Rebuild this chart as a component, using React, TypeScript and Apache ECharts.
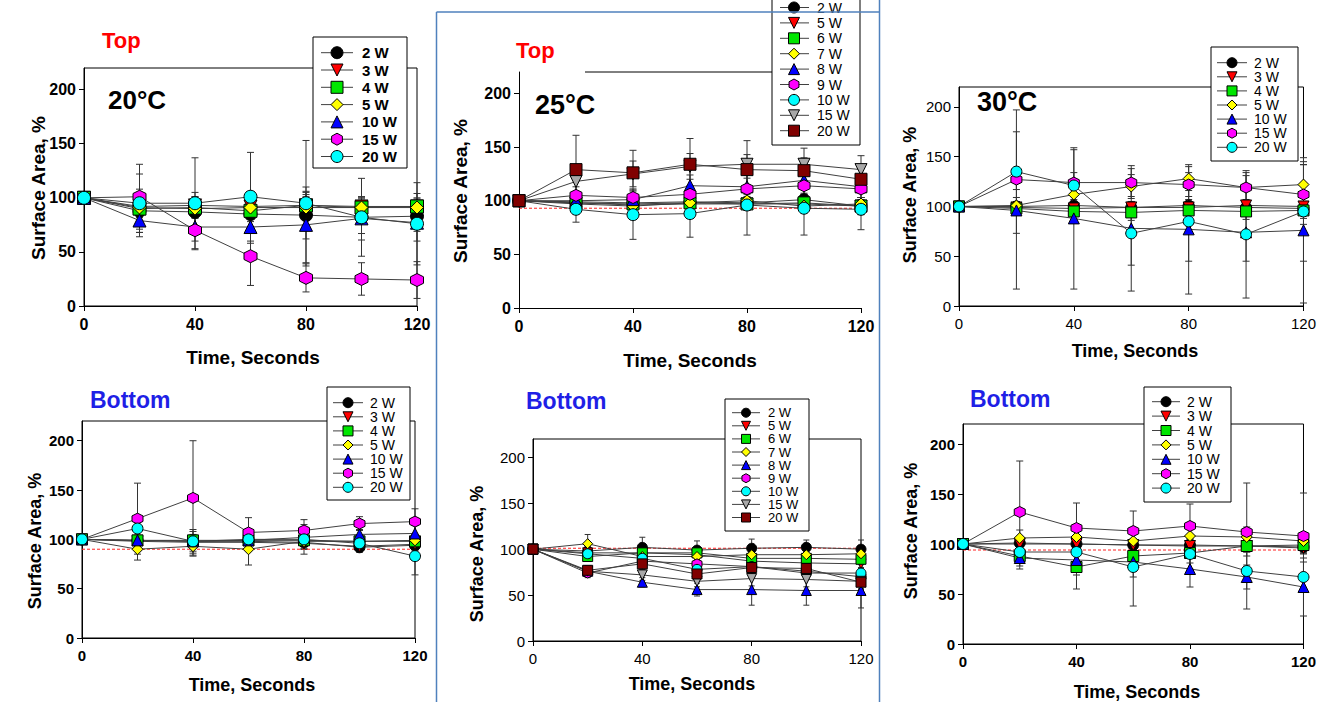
import React, { useEffect, useRef } from "react";
import * as echarts from "echarts";

const FONT = "'Liberation Sans', Arial, Helvetica, sans-serif";

const times = [0, 20, 40, 60, 80, 100, 120];
const yTickValues = [0, 50, 100, 150, 200];
const xTickValues = [0, 40, 80, 120];

const namesA = ["2 W", "3 W", "4 W", "5 W", "10 W", "15 W", "20 W"];
const namesB = ["2 W", "5 W", "6 W", "7 W", "8 W", "9 W", "10 W", "15 W", "20 W"];
const marksA = ["blackCircle", "redDown", "greenSquare", "yellowDiamond", "blueUp", "magentaHex", "cyanCircle"];
const marksB = ["blackCircle", "redDown", "greenSquare", "yellowDiamond", "blueUp", "magentaHex", "cyanCircle", "grayDown", "maroonSquare"];

// Top, 20°C
const top20Mean = [
  [100, 88, 87, 85, 84, 82, 83],
  [100, 92, 93, 92, 93, 92, 92],
  [100, 90, 91, 88, 93, 91, 92],
  [100, 91, 90, 91, 91, 91, 91],
  [100, 79, 73, 73, 75, 81, 77],
  [100, 101, 70, 46, 26, 25, 24],
  [100, 95, 95, 101, 95, 82, 76],
];
const top20Err = [
  [0, 20, 18, 12, 22, 15, 14],
  [0, 10, 8, 8, 10, 8, 8],
  [0, 12, 10, 10, 12, 10, 12],
  [0, 9, 8, 8, 10, 8, 8],
  [0, 15, 13, 15, 35, 20, 17],
  [0, 30, 18, 27, 13, 15, 17],
  [0, 27, 42, 41, 58, 36, 38],
];

// Top, 25°C
const top25Mean = [
  [100, 99, 98, 99, 98, 101, 95],
  [100, 98, 96, 97, 97, 97, 95],
  [100, 98, 97, 98, 97, 98, 95],
  [100, 97, 95, 98, 100, 95, 97],
  [100, 100, 101, 114, 113, 119, 113],
  [100, 105, 103, 106, 111, 114, 111],
  [100, 92, 87, 88, 96, 93, 92],
  [100, 118, 125, 132, 134, 134, 129],
  [100, 129, 126, 134, 129, 128, 120],
];
const top25Err = [
  [0, 5, 6, 6, 6, 5, 8],
  [0, 5, 5, 5, 5, 5, 5],
  [0, 6, 6, 6, 6, 6, 6],
  [0, 5, 6, 6, 6, 6, 6],
  [0, 6, 8, 10, 12, 12, 10],
  [0, 8, 8, 8, 10, 10, 8],
  [0, 12, 23, 22, 28, 25, 19],
  [0, 10, 12, 12, 22, 15, 13],
  [0, 32, 21, 24, 14, 12, 10],
];

// Top, 30°C
const top30Mean = [
  [100, 100, 101, 99, 101, 99, 98],
  [100, 99, 98, 99, 99, 101, 100],
  [100, 98, 95, 94, 96, 95, 96],
  [100, 101, 112, 120, 128, 119, 122],
  [100, 96, 88, 78, 77, 74, 76],
  [100, 127, 124, 124, 122, 119, 112],
  [100, 135, 121, 73, 85, 72, 95],
];
const top30Err = [
  [0, 5, 6, 6, 6, 6, 6],
  [0, 5, 5, 5, 5, 5, 5],
  [0, 6, 8, 8, 8, 8, 8],
  [0, 8, 10, 12, 12, 12, 20],
  [0, 79, 71, 63, 65, 29, 73],
  [0, 10, 10, 14, 12, 15, 30],
  [0, 62, 36, 32, 40, 64, 50],
];

// Bottom, 20°C
const bot20Mean = [
  [100, 99, 98, 98, 97, 92, 94],
  [100, 98, 97, 97, 96, 93, 95],
  [100, 99, 99, 99, 99, 98, 98],
  [100, 90, 93, 90, 98, 98, 99],
  [100, 99, 98, 99, 102, 105, 106],
  [100, 121, 142, 107, 109, 116, 118],
  [100, 111, 98, 100, 100, 96, 83],
];
const bot20Err = [
  [0, 5, 10, 6, 6, 5, 5],
  [0, 5, 6, 5, 6, 5, 5],
  [0, 5, 6, 5, 6, 5, 5],
  [0, 11, 10, 16, 8, 6, 6],
  [0, 5, 6, 5, 8, 5, 8],
  [0, 36, 58, 15, 11, 7, 13],
  [0, 10, 12, 8, 15, 6, 19],
];

// Bottom, 25°C
const bot25Mean = [
  [100, 98, 102, 99, 101, 102, 100],
  [100, 96, 96, 94, 87, 85, 84],
  [100, 92, 96, 96, 90, 90, 89],
  [100, 106, 92, 92, 94, 94, 95],
  [100, 76, 64, 56, 56, 55, 55],
  [100, 74, 87, 84, 81, 76, 70],
  [100, 95, 90, 78, 81, 74, 74],
  [100, 76, 72, 65, 68, 67, 65],
  [100, 77, 84, 73, 80, 79, 64],
];
const bot25Err = [
  [0, 5, 11, 10, 10, 8, 10],
  [0, 5, 5, 5, 5, 5, 5],
  [0, 5, 5, 5, 5, 5, 5],
  [0, 10, 6, 6, 6, 6, 6],
  [0, 6, 5, 7, 17, 16, 19],
  [0, 5, 6, 6, 6, 6, 6],
  [0, 5, 6, 6, 6, 6, 6],
  [0, 5, 6, 6, 8, 8, 8],
  [0, 5, 6, 6, 8, 8, 8],
];

// Bottom, 30°C
const bot30Mean = [
  [100, 101, 100, 99, 99, 98, 97],
  [100, 100, 100, 99, 98, 98, 96],
  [100, 88, 77, 88, 91, 98, 99],
  [100, 106, 107, 103, 108, 107, 103],
  [100, 86, 84, 82, 75, 67, 57],
  [100, 132, 116, 113, 118, 112, 108],
  [100, 92, 92, 77, 90, 73, 67],
];
const bot30Err = [
  [0, 5, 6, 6, 6, 6, 6],
  [0, 5, 6, 6, 6, 6, 6],
  [0, 10, 22, 15, 10, 10, 8],
  [0, 8, 8, 8, 10, 10, 8],
  [0, 11, 15, 15, 18, 12, 29],
  [0, 51, 25, 20, 22, 49, 43],
  [0, 10, 15, 39, 15, 38, 15],
];

// red dotted reference levels (null = none)
const refLevels = [null, 93, null, 90, 101, 94];

const HEX = "path://M0,-10 L8.66,-5 L8.66,5 L0,10 L-8.66,5 L-8.66,-5 Z";

const SYM: Record<string, { symbol: string; color: string; rotate?: number; shape: string }> = {
  blackCircle: { symbol: "circle", color: "#000000", shape: "circle" },
  redDown: { symbol: "triangle", color: "#ff0000", rotate: 180, shape: "down" },
  greenSquare: { symbol: "rect", color: "#00e600", shape: "rect" },
  yellowDiamond: { symbol: "diamond", color: "#ffff00", shape: "diamond" },
  blueUp: { symbol: "triangle", color: "#0000ff", shape: "up" },
  magentaHex: { symbol: HEX, color: "#ff00ff", shape: "hex" },
  cyanCircle: { symbol: "circle", color: "#00ffff", shape: "circle" },
  grayDown: { symbol: "triangle", color: "#a8a8a8", rotate: 180, shape: "down" },
  maroonSquare: { symbol: "rect", color: "#800000", shape: "rect" },
};

const PANELS = [
  {
    names: namesA, marks: marksA, mean: top20Mean, err: top20Err,
    grid: { left: 84, top: 68, width: 333, height: 238 }, frame: true,
    tick: { size: 16, weight: "bold" }, sym: 13, cap: 3.5,
    legend: { x: 313, y: 37, w: 94, h: 131, y0: 52.7, step: 17.3, mx: 337, l1: 321, l2: 353, tx: 362, s: 12, fs: 15, fw: "bold" },
    labels: [
      { text: "Top", x: 102, y: 40, color: "#ff0000", size: 22 },
      { text: "20°C", x: 108, y: 100, color: "#000000", size: 26 },
    ],
    yName: { x: 38, y: 188 }, xName: { x: 253, y: 357 }, nameSize: 19,
  },
  {
    names: namesB, marks: marksB, mean: top25Mean, err: top25Err,
    grid: { left: 519, top: 72, width: 342, height: 236 }, frame: false,
    tick: { size: 16, weight: "bold" }, sym: 12, cap: 3.5,
    legend: { x: 772, y: -10, w: 88, h: 155, y0: 7.5, step: 15.4, mx: 794, l1: 780, l2: 809, tx: 817, s: 11, fs: 14, fw: "normal" },
    labels: [
      { text: "Top", x: 516, y: 50, color: "#ff0000", size: 22 },
      { text: "25°C", x: 535, y: 105, color: "#000000", size: 27 },
    ],
    yName: { x: 460, y: 191 }, xName: { x: 690, y: 360 }, nameSize: 19,
  },
  {
    names: namesA, marks: marksA, mean: top30Mean, err: top30Err,
    grid: { left: 959, top: 87, width: 345, height: 219 }, frame: true,
    tick: { size: 15, weight: "normal" }, sym: 11, cap: 3.5,
    legend: { x: 1211, y: 47, w: 87, h: 114, y0: 62.7, step: 14.1, mx: 1232, l1: 1217, l2: 1247, tx: 1254, s: 10, fs: 14, fw: "normal" },
    labels: [{ text: "30°C", x: 977, y: 102, color: "#000000", size: 27 }],
    yName: { x: 910, y: 195 }, xName: { x: 1135, y: 351 }, nameSize: 18,
  },
  {
    names: namesA, marks: marksA, mean: bot20Mean, err: bot20Err,
    grid: { left: 82, top: 421, width: 333, height: 217 }, frame: true,
    tick: { size: 15, weight: "bold" }, sym: 11, cap: 3.5,
    legend: { x: 327, y: 387, w: 83, h: 113, y0: 402.7, step: 14.1, mx: 348, l1: 333, l2: 363, tx: 370, s: 10, fs: 14, fw: "normal" },
    labels: [{ text: "Bottom", x: 90, y: 400, color: "#1f1fe6", size: 23 }],
    yName: { x: 35, y: 541 }, xName: { x: 252, y: 685 }, nameSize: 18,
  },
  {
    names: namesB, marks: marksB, mean: bot25Mean, err: bot25Err,
    grid: { left: 533, top: 439, width: 328, height: 202 }, frame: true,
    tick: { size: 15, weight: "normal" }, sym: 10, cap: 3,
    legend: { x: 725, y: 399, w: 84, h: 132, y0: 412.7, step: 13.1, mx: 746, l1: 732, l2: 760, tx: 768, s: 9, fs: 13, fw: "normal" },
    labels: [{ text: "Bottom", x: 526, y: 401, color: "#1f1fe6", size: 23 }],
    yName: { x: 477, y: 554 }, xName: { x: 692, y: 684 }, nameSize: 18,
  },
  {
    names: namesA, marks: marksA, mean: bot30Mean, err: bot30Err,
    grid: { left: 963, top: 424, width: 341, height: 220 }, frame: true,
    tick: { size: 15, weight: "bold" }, sym: 11, cap: 3.5,
    legend: { x: 1144, y: 387, w: 87, h: 115, y0: 401.7, step: 14.4, mx: 1166, l1: 1152, l2: 1180, tx: 1187, s: 10, fs: 14, fw: "normal" },
    labels: [{ text: "Bottom", x: 970, y: 399, color: "#1f1fe6", size: 23 }],
    yName: { x: 911, y: 531 }, xName: { x: 1137, y: 692 }, nameSize: 18,
  },
];

function symbolShape(key: string, cx: number, cy: number, s: number, z: number) {
  const d = SYM[key];
  const style = { fill: d.color, stroke: "#000", lineWidth: 1 };
  const h = s / 2;
  if (d.shape === "circle") return { type: "circle", z, shape: { cx, cy, r: h }, style };
  if (d.shape === "rect") return { type: "rect", z, shape: { x: cx - h, y: cy - h, width: s, height: s }, style };
  let pts: number[][] = [];
  if (d.shape === "up") pts = [[cx, cy - h], [cx + h, cy + h], [cx - h, cy + h]];
  if (d.shape === "down") pts = [[cx - h, cy - h], [cx + h, cy - h], [cx, cy + h]];
  if (d.shape === "diamond") pts = [[cx, cy - h], [cx + h, cy], [cx, cy + h], [cx - h, cy]];
  if (d.shape === "hex") pts = [[cx, cy - h], [cx + h * 0.9, cy - h / 2], [cx + h * 0.9, cy + h / 2], [cx, cy + h], [cx - h * 0.9, cy + h / 2], [cx - h * 0.9, cy - h / 2]];
  return { type: "polygon", z, shape: { points: pts }, style };
}

function textEl(text: string, x: number, y: number, size: number, weight: string, color: string, align: string, z: number, rotation = 0) {
  return {
    type: "text", x, y, z, rotation,
    style: {
      text, fill: color, fontSize: size, fontWeight: weight, fontFamily: FONT,
      align, verticalAlign: "middle", textAlign: align, textVerticalAlign: "middle",
    },
  };
}

function buildOption() {
  const grid: any[] = [];
  const xAxis: any[] = [];
  const yAxis: any[] = [];
  const series: any[] = [];
  const graphic: any[] = [];

  PANELS.forEach((p, pi) => {
    grid.push({ ...p.grid, show: p.frame, borderColor: "#000", borderWidth: 1, backgroundColor: "transparent" });
    const labelStyle = { color: "#000", fontSize: p.tick.size, fontWeight: p.tick.weight, fontFamily: FONT };
    xAxis.push({
      type: "value", gridIndex: pi, min: 0, max: 120, interval: 40,
      axisLine: { show: true, onZero: false, lineStyle: { color: "#000", width: 1 } },
      axisTick: { show: true, length: 5, customValues: xTickValues, lineStyle: { color: "#000" } },
      axisLabel: { ...labelStyle, margin: 10, customValues: xTickValues },
      splitLine: { show: false },
    });
    yAxis.push({
      type: "value", gridIndex: pi, min: 0, max: 220, interval: 50,
      axisLine: { show: true, onZero: false, lineStyle: { color: "#000", width: 1 } },
      axisTick: { show: true, length: 5, customValues: yTickValues, lineStyle: { color: "#000" } },
      axisLabel: { ...labelStyle, margin: 8, customValues: yTickValues },
      splitLine: { show: false },
    });

    const rows: number[][] = [];
    p.mean.forEach((m, si) =>
      m.forEach((v, ti) => {
        const e = p.err[si][ti];
        if (e > 0) rows.push([times[ti], v - e, v + e]);
      })
    );
    const cap = p.cap;
    series.push({
      type: "custom", xAxisIndex: pi, yAxisIndex: pi, silent: true, z: 2,
      data: rows,
      encode: { x: 0, y: [1, 2] },
      renderItem: (params: any, api: any) => {
        const x = api.value(0);
        const lo = api.coord([x, api.value(1)]);
        const hi = api.coord([x, api.value(2)]);
        const st = { stroke: "#333", lineWidth: 1 };
        return {
          type: "group",
          children: [
            { type: "line", shape: { x1: lo[0], y1: lo[1], x2: hi[0], y2: hi[1] }, style: st },
            { type: "line", shape: { x1: lo[0] - cap, y1: lo[1], x2: lo[0] + cap, y2: lo[1] }, style: st },
            { type: "line", shape: { x1: hi[0] - cap, y1: hi[1], x2: hi[0] + cap, y2: hi[1] }, style: st },
          ],
        };
      },
    });

    const ref = refLevels[pi];
    if (ref != null) {
      series.push({
        type: "line", xAxisIndex: pi, yAxisIndex: pi, silent: true, z: 2,
        data: [[0, ref], [120, ref]], symbol: "none",
        lineStyle: { color: "#ff2020", width: 1, type: [3, 2] },
      });
    }

    p.names.forEach((n, si) => {
      const d = SYM[p.marks[si]];
      series.push({
        type: "line", name: n, xAxisIndex: pi, yAxisIndex: pi, z: 3,
        data: times.map((t, ti) => [t, p.mean[si][ti]]),
        symbol: d.symbol, symbolSize: p.sym, symbolRotate: d.rotate || 0,
        showAllSymbol: true,
        itemStyle: { color: d.color, borderColor: "#000", borderWidth: 1 },
        lineStyle: { color: "#404040", width: 1 },
        emphasis: { disabled: true },
      });
    });

    // legend box
    const L = p.legend;
    graphic.push({ type: "rect", z: 100, shape: { x: L.x, y: L.y, width: L.w, height: L.h }, style: { fill: "#fff", stroke: "#000", lineWidth: 1 } });
    p.names.forEach((n, i) => {
      const cy = L.y0 + i * L.step;
      graphic.push({ type: "line", z: 101, shape: { x1: L.l1, y1: cy, x2: L.l2, y2: cy }, style: { stroke: "#404040", lineWidth: 1 } });
      graphic.push(symbolShape(p.marks[i], L.mx, cy, L.s, 102));
      graphic.push(textEl(n, L.tx, cy, L.fs, L.fw, "#000", "left", 102));
    });

    p.labels.forEach((lb) => graphic.push(textEl(lb.text, lb.x, lb.y, lb.size, "bold", lb.color, "left", 90)));
    graphic.push(textEl("Surface Area, %", p.yName.x, p.yName.y, p.nameSize, "bold", "#000", "center", 90, Math.PI / 2));
    graphic.push(textEl("Time, Seconds", p.xName.x, p.xName.y, p.nameSize, "bold", "#000", "center", 90));
  });

  // partial top frame of the 25°C top panel
  graphic.push({ type: "line", z: 5, shape: { x1: 585, y1: 72, x2: 772, y2: 72 }, style: { stroke: "#000", lineWidth: 1 } });

  // slide dividers
  const div = { stroke: "#4f81bd", lineWidth: 1.5 };
  graphic.push({ type: "line", z: 120, shape: { x1: 436.5, y1: 12, x2: 436.5, y2: 702 }, style: div });
  graphic.push({ type: "line", z: 120, shape: { x1: 879.5, y1: 0, x2: 879.5, y2: 702 }, style: div });
  graphic.push({ type: "line", z: 120, shape: { x1: 436.5, y1: 12, x2: 879.5, y2: 12 }, style: div });

  return {
    animation: false,
    backgroundColor: "#ffffff",
    textStyle: { fontFamily: FONT },
    grid, xAxis, yAxis, series, graphic,
  };
}

export default function App() {
  const ref = useRef<HTMLDivElement>(null);
  useEffect(() => {
    if (!ref.current) return;
    const chart = echarts.init(ref.current, null, { renderer: "svg" });
    chart.setOption(buildOption() as any);
    return () => chart.dispose();
  }, []);
  return (
    <div
      ref={ref}
      style={{ position: "absolute", left: 0, top: 0, width: 1319, height: 702, background: "#fff" }}
    />
  );
}
